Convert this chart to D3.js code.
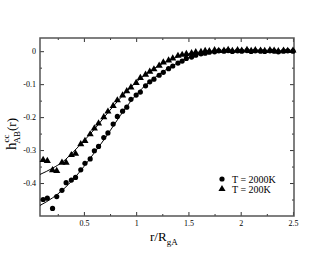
<!DOCTYPE html>
<html>
<head>
<meta charset="utf-8">
<script src="https://cdn.jsdelivr.net/npm/d3@7"></script>
<style>
  body { margin: 0; background: #fff; }
  text { font-family: "Liberation Serif", "DejaVu Serif", serif; fill: #000; }
</style>
</head>
<body>
<script>
// r / R_gA sample positions shared by both series
const rValues = [0.11,0.15,0.20,0.24,0.29,0.33,0.38,0.42,0.47,0.51,0.56,0.60,0.64,0.69,0.73,0.78,0.82,0.87,0.91,0.95,
	1.00,1.04,1.09,1.13,1.17,1.22,1.26,1.31,1.35,1.40,1.44,1.48,1.53,1.57,1.62,1.66,1.70,1.75,1.79,1.84,
	1.88,1.92,1.97,2.01,2.06,2.10,2.14,2.19,2.23,2.28,2.32,2.36,2.41,2.45,2.50];

const hot = [-0.450,-0.446,-0.477,-0.441,-0.422,-0.399,-0.391,-0.383,-0.360,-0.340,-0.327,-0.302,-0.289,-0.262,-0.248,-0.221,-0.198,-0.182,-0.170,-0.146,
	-0.133,-0.124,-0.105,-0.093,-0.085,-0.073,-0.064,-0.053,-0.045,-0.036,-0.030,-0.022,-0.018,-0.012,-0.008,-0.006,-0.003,-0.002,0.001,0.000,
	0.002,-0.001,0.001,0.000,0.002,-0.001,0.001,0.000,-0.001,0.001,0.000,-0.002,0.000,0.001,0.000];

const cold = [-0.330,-0.333,-0.361,-0.363,-0.338,-0.338,-0.315,-0.311,-0.282,-0.272,-0.252,-0.234,-0.219,-0.200,-0.183,-0.166,-0.149,-0.134,-0.121,-0.110,
	-0.096,-0.081,-0.071,-0.062,-0.055,-0.044,-0.034,-0.028,-0.022,-0.014,-0.011,-0.008,-0.006,-0.003,-0.002,0.001,0.000,0.003,0.001,0.002,
	0.004,0.001,0.003,0.002,0.004,0.001,0.003,0.002,0.001,0.003,0.002,0.000,0.002,0.001,0.002];

// fitted curves
const fitR = [0.08,0.2,0.3,0.4,0.5,0.6,0.7,0.8,0.9,1.0,1.1,1.2,1.3,1.4,1.5,1.6,1.7,1.8,1.9,2.1,2.3,2.5];
const fitHot = [-0.468,-0.445,-0.420,-0.388,-0.350,-0.308,-0.265,-0.218,-0.172,-0.132,-0.100,-0.075,-0.053,-0.035,-0.020,-0.010,-0.004,-0.001,0,0,0,0];
const fitCold = [-0.374,-0.355,-0.335,-0.305,-0.272,-0.237,-0.198,-0.160,-0.125,-0.094,-0.068,-0.047,-0.030,-0.017,-0.008,-0.003,-0.001,0,0,0,0,0];

const xMajor = [0.5, 1, 1.5, 2, 2.5];
const xMinor = [0.25, 0.75, 1.25, 1.75, 2.25];
const yMajor = [0, -0.1, -0.2, -0.3, -0.4];
const yMinor = [-0.05, -0.15, -0.25, -0.35, -0.45];
const legendLabels = ["T = 2000K", "T = 200K"];

const drawViz = () => {
	const width = 330, height = 255;
	const margin = {top: 38, right: 36, bottom: 39, left: 40};
	const w = width - margin.left - margin.right;
	const h = height - margin.top - margin.bottom;

	const svg = d3.select('body').append('svg')
		.attr('width', width)
		.attr('height', height);

	const g = svg.append('g')
		.attr('transform', `translate(${margin.left},${margin.top})`);

	const x = d3.scaleLinear().domain([0.08, 2.51]).range([0, w]);
	const y = d3.scaleLinear().domain([-0.5, 0.04]).range([h, 0]);

	// axes, ticks pointing inward on all sides
	const fmt = d => d3.format('')(d).replace('\u2212', '-');
	const ax = [
		[d3.axisBottom(x).tickValues(xMajor).tickSize(-4).tickPadding(4).tickFormat(fmt), `translate(0,${h})`],
		[d3.axisBottom(x).tickValues(xMinor).tickSize(-2).tickFormat(''), `translate(0,${h})`],
		[d3.axisTop(x).tickValues(xMajor).tickSize(-4).tickFormat(''), null],
		[d3.axisTop(x).tickValues(xMinor).tickSize(-2).tickFormat(''), null],
		[d3.axisLeft(y).tickValues(yMajor).tickSize(-4).tickPadding(4).tickFormat(fmt), null],
		[d3.axisLeft(y).tickValues(yMinor).tickSize(-2).tickFormat(''), null],
		[d3.axisRight(y).tickValues(yMajor).tickSize(-4).tickFormat(''), `translate(${w},0)`],
		[d3.axisRight(y).tickValues(yMinor).tickSize(-2).tickFormat(''), `translate(${w},0)`]
	];
	ax.forEach(([a, t]) => {
		const sel = g.append('g').attr('class', 'axis').call(a);
		if (t) sel.attr('transform', t);
		sel.select('.domain').remove();
		sel.selectAll('line').attr('stroke', '#333');
		sel.selectAll('text').attr('font-size', 8).attr('font-family', '"Liberation Serif", serif');
	});

	g.append('rect')
		.attr('x', 0).attr('y', 0)
		.attr('width', w).attr('height', h)
		.attr('fill', 'none')
		.attr('stroke', '#555')
		.attr('stroke-width', 1.5);

	// fitted lines
	const line = d3.line()
		.x(d => x(d[0]))
		.y(d => y(d[1]))
		.curve(d3.curveMonotoneX);

	[fitHot, fitCold].forEach(fit => {
		g.append('path')
			.datum(fitR.map((r, i) => [r, fit[i]]))
			.attr('fill', 'none')
			.attr('stroke', '#000')
			.attr('stroke-width', 1)
			.attr('d', line);
	});

	const tri = d3.symbol().type(d3.symbolTriangle).size(22);

	g.selectAll('.hot')
		.data(rValues.map((r, i) => [r, hot[i]]))
		.enter().append('circle')
		.attr('class', 'hot')
		.attr('cx', d => x(d[0]))
		.attr('cy', d => y(d[1]))
		.attr('r', 2.6)
		.attr('fill', '#000');

	g.selectAll('.cold')
		.data(rValues.map((r, i) => [r, cold[i]]))
		.enter().append('path')
		.attr('class', 'cold')
		.attr('transform', d => `translate(${x(d[0])},${y(d[1])})`)
		.attr('d', tri)
		.attr('fill', '#000');

	// legend
	const leg = svg.append('g').attr('transform', 'translate(222,179)');
	leg.append('circle').attr('cx', 0).attr('cy', 0).attr('r', 2.6).attr('fill', '#000');
	leg.append('path').attr('transform', 'translate(0,10)').attr('d', tri).attr('fill', '#000');
	leg.selectAll('text')
		.data(legendLabels)
		.enter().append('text')
		.attr('x', 10)
		.attr('y', (d, i) => i * 10 + 3.5)
		.attr('font-size', 10)
		.text(d => d);

	// axis titles
	const xt = svg.append('text')
		.attr('x', 150).attr('y', 241)
		.attr('font-size', 13);
	xt.append('tspan').text('r/R');
	xt.append('tspan').attr('dy', 4).attr('font-size', 9).text('gA');

	const yt = svg.append('text')
		.attr('transform', 'translate(16,150) rotate(-90)')
		.attr('font-size', 15);
	yt.append('tspan').text('h');
	yt.append('tspan').attr('dy', -7).attr('font-size', 9).text('cc');
	yt.append('tspan').attr('dx', -9).attr('dy', 11).attr('font-size', 9).text('AB');
	yt.append('tspan').attr('dy', -4).attr('font-size', 13).text('(r)');
};

drawViz();
</script>
</body>
</html>
